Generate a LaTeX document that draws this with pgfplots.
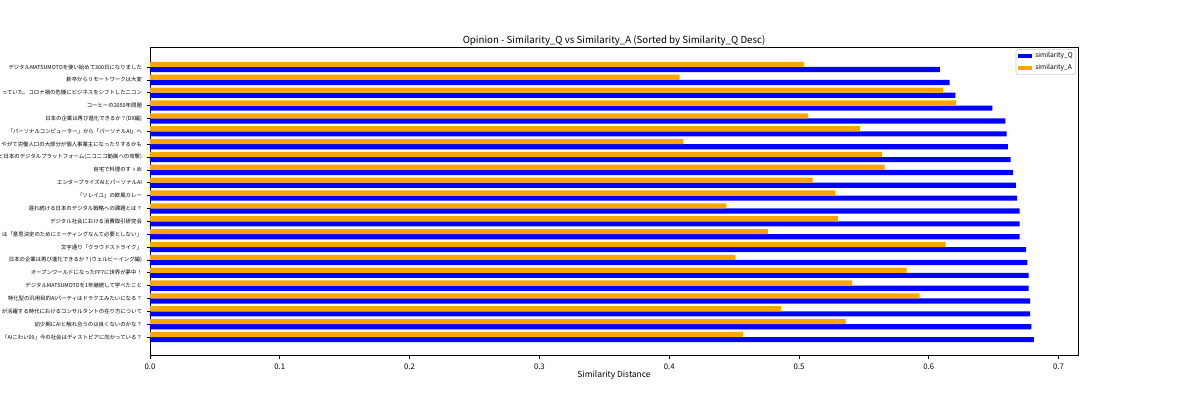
\documentclass[border=0pt]{standalone}
\usepackage{fontspec}
\setmainfont{Noto Sans CJK JP}
\usepackage{pgfplots}
\pgfplotsset{compat=1.18}
\usepackage{pgfplotstable}
\definecolor{mplorange}{HTML}{FFA500}
\definecolor{mplblue}{HTML}{0000FF}

\pgfplotstableread{
y q a
0 0.681 0.457
1 0.679 0.536
2 0.678 0.486
3 0.678 0.593
4 0.677 0.541
5 0.677 0.583
6 0.676 0.451
7 0.675 0.613
8 0.670 0.476
9 0.670 0.530
10 0.670 0.444
11 0.668 0.528
12 0.667 0.5105
13 0.665 0.566
14 0.663 0.564
15 0.661 0.411
16 0.660 0.547
17 0.659 0.507
18 0.649 0.621
19 0.6205 0.611
20 0.616 0.408
21 0.6085 0.504
}\data

\begin{document}
\begin{tikzpicture}
\begin{axis}[
  at={(108.4pt,32.0pt)}, anchor=south west,
  scale only axis, width=670.7pt, height=222.6pt,
  xmin=0, xmax=0.715, ymin=-1.45, ymax=22.5,
  xbar, bar width=0.4,
  axis line style={line width=0.5pt},
  ytick={0,1,...,21},
  yticklabels={
    {「AIこわい09」今の社会はディストピアに向かっている？},
    {幼少期にAIと触れ合うのは良くないのかな？},
    {が活躍する時代におけるコンサルタントの在り方について},
    {特化型の汎用目的AIパーティはドラクエみたいになる？},
    {デジタルMATSUMOTOを1年継続して学べたこと},
    {オープンワールドになったFF7に世界が夢中！},
    {日本の企業は再び進化できるか？(ウェルビーイング編)},
    {文字通り「クラウドストライク」},
    {は「意思決定のためにミーティングなんて必要としない」},
    {デジタル社会における消費取引研究会},
    {遅れ続ける日本のデジタル戦略への課題とは？},
    {「ソレイユ」の欧風カレー},
    {エンタープライズAIとパーソナルAI},
    {自宅で料理のすゝめ},
    {と日本のデジタルプラットフォーム(ニコニコ動画への攻撃)},
    {やがて労働人口の大部分が個人事業主になったりするかも},
    {「パーソナルコンピューター」から「パーソナルAI」へ},
    {日本の企業は再び進化できるか？(DX編)},
    {コーヒーの2050年問題},
    {っていた。コロナ禍の危機にビジネスをシフトしたニコン},
    {新卒からリモートワークは大変},
    {デジタルMATSUMOTOを使い始めて300日になりました}
  },
  xtick={0,0.1,0.2,0.3,0.4,0.5,0.6,0.7},
  /pgf/number format/assume math mode=true,
  x tick label style={/pgf/number format/.cd, fixed, fixed zerofill, precision=1, /tikz/.cd,
    font=\fontsize{5.6}{6}\selectfont},
  y tick label style={font=\fontsize{3.9}{4.5}\selectfont},
  tick align=outside, xtick pos=bottom, ytick pos=left,
  major tick length=2.3pt,
  tick style={line width=0.5pt, black},
  title={Opinion - Similarity\_Q vs Similarity\_A (Sorted by Similarity\_Q Desc)},
  title style={at={(axis description cs:0.5,1)}, anchor=base, inner sep=0pt, yshift=-3.2pt,
    font=\fontsize{7.0}{8}\selectfont},
  xlabel={Similarity Distance},
  xlabel style={at={(axis description cs:0.5,0)}, anchor=base, inner sep=0pt, yshift=-15.6pt,
    font=\fontsize{6.1}{7}\selectfont},
  legend style={at={(axis description cs:1,1)}, anchor=north east, xshift=-1.5pt, yshift=-1.0pt,
    draw=black!20, rounded corners=1.5pt, font=\fontsize{4.8}{5.5}\selectfont,
    cells={anchor=west}, nodes={inner sep=0.6pt}, row sep=1.6pt, column sep=1.5pt,
    inner xsep=1.5pt, inner ysep=1.8pt},
  legend image code/.code={\fill[#1, sharp corners] (0pt,-1.4pt) rectangle (10.3pt,1.4pt);},
]
\addplot[fill=mplblue, draw=none, bar shift=-0.2] table[x=q, y=y]{\data};
\addplot[fill=mplorange, draw=none, bar shift=0.2] table[x=a, y=y]{\data};
\legend{similarity\_Q, similarity\_A}
\end{axis}
\pgfresetboundingbox
\useasboundingbox (0,0) rectangle (867.24pt,289.08pt);
\end{tikzpicture}
\end{document}
